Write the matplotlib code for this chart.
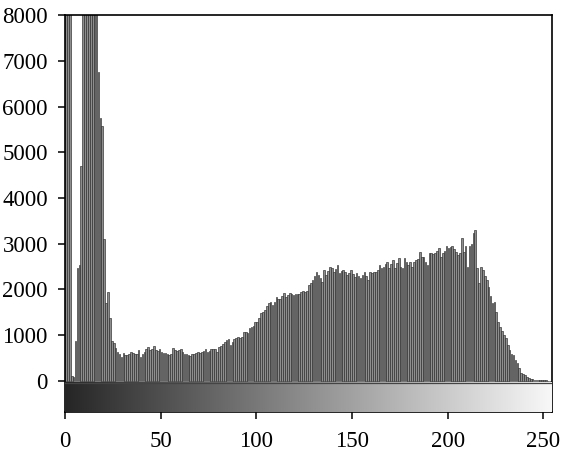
import numpy as np
import matplotlib
matplotlib.use("Agg")
import matplotlib.pyplot as plt
from matplotlib.colors import LinearSegmentedColormap

# Histogram counts for intensity levels 0..255 (values above 8000 are clipped in the view)
counts = [
    24000, 18000, 11000, 110, 90, 870, 2480, 2540, 4700, 9500,
    12500, 15000, 16500, 17000, 15500, 13000, 10000, 6750, 5750, 5580,
    3100, 1700, 1940, 1380, 870, 840, 720, 640, 580, 530,
    610, 560, 570, 600, 640, 610, 600, 590, 680, 530,
    600, 640, 690, 750, 680, 700, 760, 680, 650, 690,
    640, 610, 620, 600, 570, 580, 720, 670, 660, 670,
    690, 640, 600, 600, 570, 550, 580, 600, 610, 630,
    610, 640, 660, 690, 640, 660, 690, 690, 700, 640,
    740, 760, 810, 850, 895, 920, 790, 850, 915, 940,
    960, 950, 960, 1080, 1060, 1040, 1160, 1180, 1200, 1300,
    1300, 1370, 1480, 1500, 1550, 1630, 1700, 1735, 1660, 1720,
    1840, 1800, 1790, 1850, 1930, 1830, 1880, 1930, 1900, 1880,
    1910, 1900, 1910, 1940, 1975, 1950, 1975, 2100, 2150, 2210,
    2300, 2390, 2320, 2250, 2170, 2430, 2320, 2400, 2500, 2470,
    2390, 2450, 2540, 2350, 2400, 2430, 2390, 2320, 2360, 2430,
    2330, 2280, 2350, 2300, 2250, 2320, 2390, 2300, 2210, 2390,
    2350, 2390, 2390, 2420, 2540, 2470, 2500, 2550, 2610, 2470,
    2560, 2650, 2470, 2580, 2680, 2500, 2470, 2680, 2610, 2540,
    2610, 2500, 2600, 2650, 2670, 2830, 2720, 2710, 2600, 2540,
    2790, 2800, 2780, 2790, 2850, 2900, 2720, 2800, 2850, 2940,
    2900, 2920, 2940, 2880, 2830, 2760, 2800, 3120, 2830, 2950,
    2500, 2940, 3000, 3230, 3300, 2470, 2135, 2500, 2430, 2300,
    2210, 2050, 1850, 1700, 1720, 1515, 1300, 1190, 1100, 1005,
    930, 790, 680, 600, 570, 460, 385, 280, 180, 150,
    120, 95, 60, 45, 40, 30, 30, 25, 20, 20,
    15, 12, 10, 8, 5, 3,
]
levels = list(range(len(counts)))
xticks = [0, 50, 100, 150, 200, 250]
yticks = [0, 1000, 2000, 3000, 4000, 5000, 6000, 7000, 8000]

plt.rcParams['font.family'] = ['Liberation Serif', 'DejaVu Serif']

fig = plt.figure(figsize=(5.62, 4.55), dpi=100)
ax = fig.add_axes([0.1149, 0.0945, 0.982 - 0.1149, 0.967 - 0.0945])

ymin, ymax = -678, 8000
ax.bar(levels, counts, width=0.85, align='edge', color='#8e8e8e',
       edgecolor='#2a2a2a', linewidth=0.45, zorder=2)

# grey-level gradient strip below the zero line
cmap = LinearSegmentedColormap.from_list('g', ['#262626', '#f8f8f8'])
grad = np.linspace(0, 1, 256).reshape(1, -1)
ax.imshow(grad, cmap=cmap, aspect='auto', extent=[0, 255, ymin, -40], zorder=3)
ax.plot([0, 255], [-40, -40], color='#444444', lw=0.9, zorder=4)

ax.set_xlim(-0.3, 254.5)
ax.set_ylim(ymin, ymax)
ax.set_xticks(xticks)
ax.set_yticks(yticks)
ax.tick_params(axis='both', direction='out', length=5, width=1.1,
               labelsize=16.5, color='black')
ax.tick_params(axis='x', pad=9)
ax.tick_params(axis='y', pad=7)
for s in ax.spines.values():
    s.set_linewidth(1.2)
    s.set_color('black')

fig.savefig('out.png', dpi=100)
